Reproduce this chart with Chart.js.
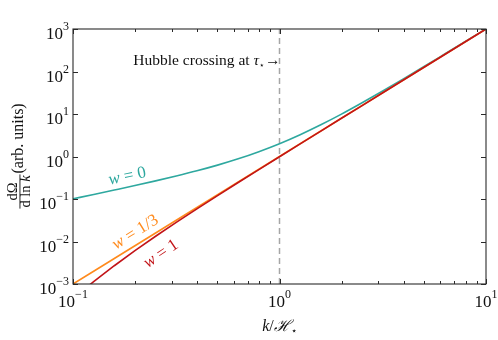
<!DOCTYPE html>
<html><head><meta charset="utf-8">
<script src="https://cdn.jsdelivr.net/npm/chart.js@4"></script>
<style>html,body{margin:0;padding:0;background:#fff;}canvas{display:block;}</style>
</head><body>
<canvas id="c" width="498" height="340"></canvas>
<script>
// ---- data ----
const kValues   = [0.1,0.1259,0.1585,0.1995,0.2512,0.3162,0.3981,0.5012,0.631,0.7943,1,1.259,1.585,1.995,2.512,3.162,3.981,5.012,6.31,7.943,10];
const w0Values  = [0.101,0.128,0.1625,0.207,0.267,0.348,0.461,0.627,0.882,1.30,2.0,3.26,5.57,9.94,18.4,34.8,67.1,131,258,509,1000];
const w13Values = [0.001,0.002,0.00398,0.00794,0.01585,0.0316,0.0631,0.126,0.251,0.501,1.0,2.0,3.98,7.94,15.85,31.6,63.1,126,251,501,1000];
const w1Values  = [0.00045,0.00114,0.00269,0.0061,0.0133,0.0282,0.0587,0.120,0.244,0.492,0.988,1.98,3.96,7.92,15.8,31.6,63.0,126,251,501,1000];
const xTickExps = [-1,0,1];
const yTickExps = [-3,-2,-1,0,1,2,3];
const seriesNames = ['0','1/3','1'];
const crossingK = 1;

const COL_TEAL = '#2ea89f', COL_ORANGE = '#ff8a1c', COL_RED = '#c21418';
const serif = '"Liberation Serif","DejaVu Serif",serif';

function pts(vals){ return kValues.map((k,i)=>({x:k,y:vals[i]})); }

function drawParts(ctx, parts, x, y){
  let cx = x;
  for (const p of parts){
    ctx.font = (p.it?'italic ':'') + p.size + 'px ' + serif;
    ctx.fillText(p.t, cx, y + (p.dy||0));
    cx += ctx.measureText(p.t).width;
  }
  return cx - x;
}
function measureParts(ctx, parts){
  let w = 0;
  for (const p of parts){
    ctx.font = (p.it?'italic ':'') + p.size + 'px ' + serif;
    w += ctx.measureText(p.t).width;
  }
  return w;
}
function powParts(e){
  return [{t:'10',size:17},{t:(e<0?'\u2212':'')+Math.abs(e),size:12,dy:-9}];
}

const labelStyles = [
  {k:0.183, v:0.35,   rot:-12, color:COL_TEAL},
  {k:0.200, v:0.0168, rot:-32, color:COL_ORANGE},
  {k:0.266, v:0.0052, rot:-34, color:COL_RED}
];

const decor = {
  id:'decor',
  afterDraw(chart){
    const ctx = chart.ctx, a = chart.chartArea;
    const xs = chart.scales.x, ys = chart.scales.y;
    ctx.save();
    // frame
    ctx.strokeStyle = '#2a2a2a'; ctx.lineWidth = 1.1;
    ctx.strokeRect(a.left, a.top, a.right-a.left, a.bottom-a.top);
    // ticks
    ctx.lineWidth = 1;
    ctx.beginPath();
    for (let d=-1; d<=1; d++){
      for (let m=1; m<=9; m++){
        const v = m*Math.pow(10,d);
        if (v < 0.1-1e-9 || v > 10+1e-9) continue;
        const px = Math.round(xs.getPixelForValue(v))+0.5;
        const len = m===1 ? 5 : 3;
        ctx.moveTo(px, a.bottom); ctx.lineTo(px, a.bottom-len);
        ctx.moveTo(px, a.top); ctx.lineTo(px, a.top+len);
      }
    }
    for (const e of yTickExps){
      const py = Math.round(ys.getPixelForValue(Math.pow(10,e)))+0.5;
      ctx.moveTo(a.left, py); ctx.lineTo(a.left+5, py);
      ctx.moveTo(a.right, py); ctx.lineTo(a.right-5, py);
    }
    ctx.stroke();
    // tick labels
    ctx.fillStyle = '#111'; ctx.textBaseline = 'alphabetic'; ctx.textAlign = 'left';
    for (const e of xTickExps){
      const px = xs.getPixelForValue(Math.pow(10,e));
      const parts = powParts(e);
      const w = measureParts(ctx, parts);
      drawParts(ctx, parts, px - w/2, 307);
    }
    for (const e of yTickExps){
      const py = ys.getPixelForValue(Math.pow(10,e));
      const parts = powParts(e);
      const w = measureParts(ctx, parts);
      drawParts(ctx, parts, a.left - 4 - w, py + 10);
    }
    // x title
    const xt = [{t:'k',it:true,size:16},{t:'/',size:16},{t:'\u210B',it:true,size:16},{t:'\u22C6',size:10,dy:3}];
    const xtw = measureParts(ctx, xt);
    drawParts(ctx, xt, (a.left+a.right)/2 - xtw/2, 331);
    // y title (rotated)
    ctx.save();
    ctx.translate(0, (a.top+a.bottom)/2);
    ctx.rotate(-Math.PI/2);
    const num = [{t:'d',size:14.5},{t:'\u03A9',size:14.5}];
    const den = [{t:'d ln ',size:14.5},{t:'k',it:true,size:14.5}];
    const fc = -35;
    const nw = measureParts(ctx, num), dw = measureParts(ctx, den);
    drawParts(ctx, num, fc - nw/2, 17);
    drawParts(ctx, den, fc - dw/2, 30);
    const bw = Math.max(nw, dw) + 2;
    ctx.fillRect(fc - bw/2, 19.5, bw, 0.9);
    drawParts(ctx, [{t:'(arb. units)',size:16}], -17, 23);
    ctx.restore();
    // annotation
    const ann = [{t:'Hubble crossing at ',size:15.5},{t:'\u03C4',it:true,size:15.5},{t:'\u22C6',size:9,dy:3},{t:'\u2192',size:15.5}];
    const aw = measureParts(ctx, ann);
    drawParts(ctx, ann, xs.getPixelForValue(crossingK) + 1 - aw, 65);
    // series labels
    labelStyles.forEach((s,i)=>{
      const parts = [{t:'w',it:true,size:17},{t:' = '+seriesNames[i],size:17}];
      const w = measureParts(ctx, parts);
      ctx.save();
      ctx.translate(xs.getPixelForValue(s.k), ys.getPixelForValue(s.v));
      ctx.rotate(s.rot*Math.PI/180);
      ctx.fillStyle = s.color;
      drawParts(ctx, parts, -w/2, 5);
      ctx.restore();
    });
    ctx.restore();
  }
};

new Chart(document.getElementById('c'), {
  type:'line',
  data:{ datasets:[
    {data:pts(w1Values), borderColor:COL_RED, borderWidth:1.6, clip:0},
    {data:pts(w13Values), borderColor:COL_ORANGE, borderWidth:1.6, clip:0},
    {data:pts(w0Values), borderColor:COL_TEAL, borderWidth:1.6, clip:0, cubicInterpolationMode:'monotone'},
    {data:[{x:crossingK,y:1e-3},{x:crossingK,y:1e3}], borderColor:'#a6a6a6', borderWidth:1.5, borderDash:[6,4], clip:0}
  ]},
  options:{
    responsive:false, animation:false, devicePixelRatio:1,
    layout:{padding:{left:73,right:12,top:29,bottom:56}},
    elements:{point:{radius:0}, line:{tension:0}},
    plugins:{legend:{display:false}, tooltip:{enabled:false}},
    scales:{
      x:{type:'logarithmic', min:0.1, max:10, display:false},
      y:{type:'logarithmic', min:1e-3, max:1e3, display:false}
    }
  },
  plugins:[decor]
});
</script>
</body></html>
